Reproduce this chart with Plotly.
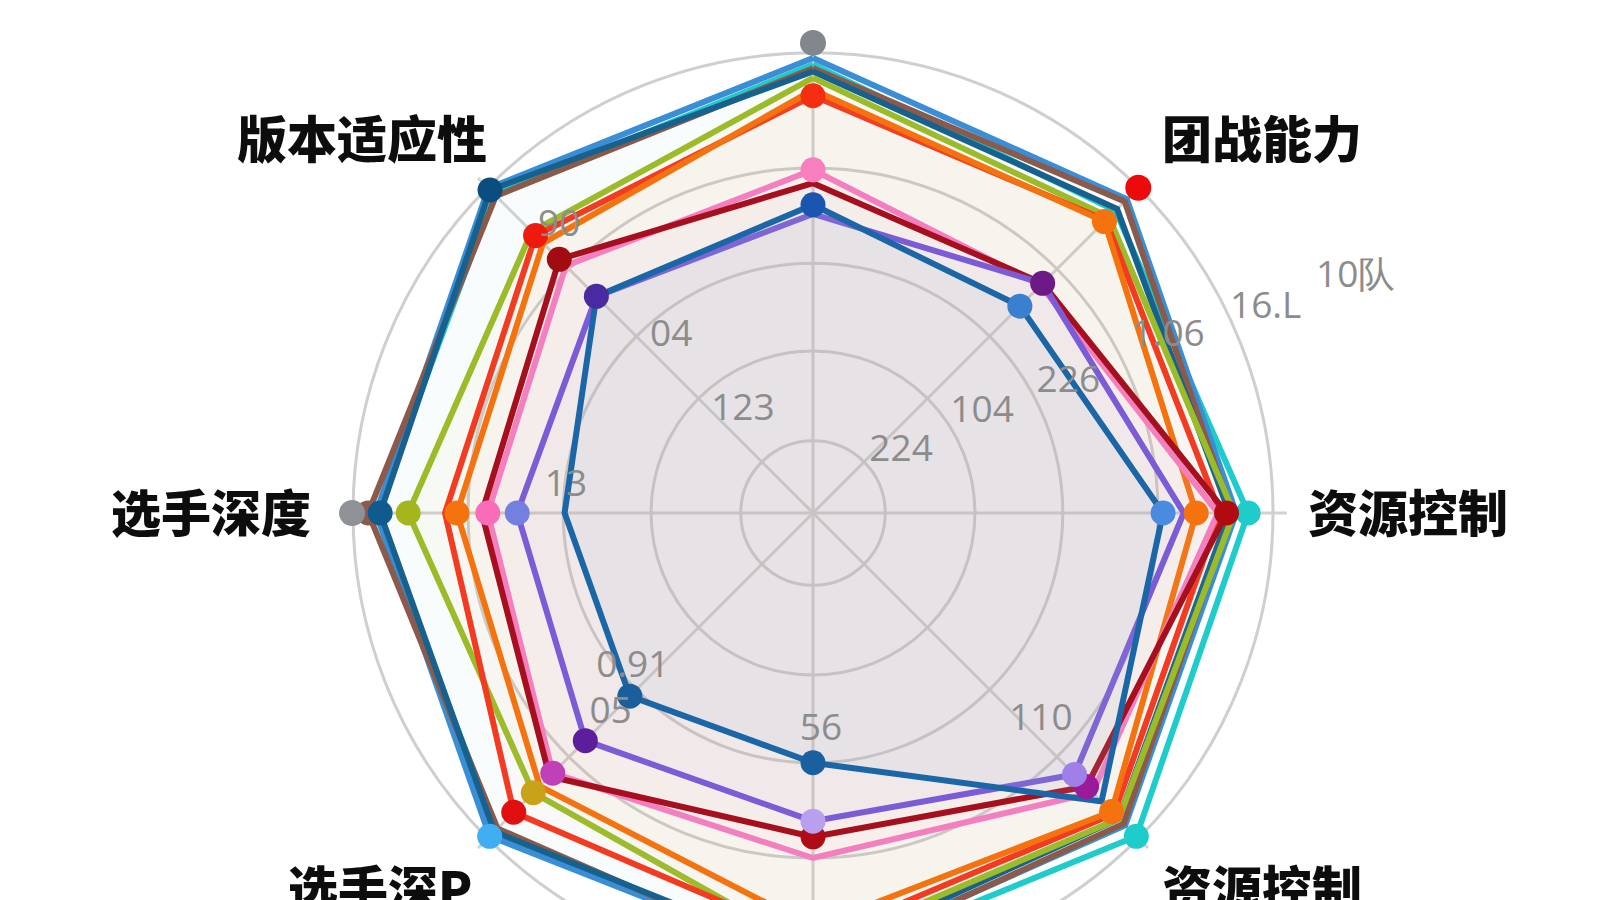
import math
import plotly.graph_objects as go

# ---------------- data ----------------
theta = [90, 45, 0, 315, 270, 225, 180, 135]
axis_labels = ["", "团战能力", "资源控制", "资源控制", "", "选手深P", "选手深度", "版本适应性"]

cyan      = [97.5, 93.0, 94.6, 99.4, 99.0, 97.5, 95.0, 98.0]
blue      = [98.9, 96.5, 92.0, 96.0, 98.0, 99.4, 95.0, 99.8]
brown     = [96.7, 95.8, 91.0, 95.5, 98.5, 97.0, 96.7, 97.5]
teal      = [96.0, 93.5, 90.5, 94.0, 97.0, 98.0, 94.1, 99.3]
olive     = [94.6, 91.0, 91.5, 94.0, 95.0, 86.0, 88.0, 86.5]
red       = [90.7, 90.0, 88.5, 92.5, 93.0, 92.0, 80.0, 85.3]
orange    = [92.0, 89.6, 83.3, 91.8, 90.0, 84.0, 77.4, 83.0]
pink      = [74.6, 70.0, 88.0, 86.0, 75.0, 80.0, 70.7, 76.0]
darkred   = [71.7, 70.6, 89.9, 84.1, 70.4, 81.0, 72.0, 78.0]
violet    = [65.0, 70.6, 80.6, 80.4, 67.0, 70.0, 64.3, 66.6]
darkblue  = [67.0, 63.6, 76.1, 88.7, 54.3, 56.3, 54.0, 66.6]
stray_r     = [102.2, 100.0, 100.2]
stray_theta = [90, 45, 180]

ring_values = [15.7, 35.2, 54.3, 75.0, 100.0]

tick_text  = ["04", "123", "13", "224", "104", "226", "1.06", "16.L", "10队",
              "56", "110", "0.91", "05", "90"]
tick_r     = [49.1, 26.9, 54.0, 23.3, 42.7, 62.3, 86.2, 108.4, 128.9,
              47.4, 67.1, 51.6, 62.0, 83.1]
tick_theta = [128.9, 124.5, 174, 34.7, 30.6, 27, 26.4, 24.9, 23.9,
              272.1, 317.6, 220.6, 224.8, 131.6]

# ---------------- styles ----------------
# name, values, line colour, fill colour, fill alpha, dot mask, dot colours
series = [
    ("cyan", cyan, "#1fcccc", "#1fcccc", 0.008, [0, 0, 1, 1, 0, 0, 0, 0], None),
    ("blue", blue, "#3a8ed6", "#3a8ed6", 0.008, [0, 0, 0, 0, 0, 1, 0, 0],
     [None, None, None, None, None, "#41aef4", None, None]),
    ("brown", brown, "#8b5a4a", "#8b5a4a", 0.004, [0, 0, 0, 0, 0, 0, 1, 0], None),
    ("teal", teal, "#17618e", "#17618e", 0.006, [0, 0, 0, 0, 0, 0, 1, 1],
     [None, None, None, None, None, None, "#0f5a8e", "#0b4d7e"]),
    ("olive", olive, "#9bbc28", "#d9d070", 0.060, [0, 0, 0, 0, 0, 1, 1, 0],
     [None, None, None, None, None, "#c9a21a", "#a3b71c", None]),
    ("red", red, "#f23b20", "#f4a090", 0.030, [1, 0, 0, 0, 0, 1, 0, 1],
     ["#f52e10", None, None, None, None, "#e01010", None, "#ee1a10"]),
    ("orange", orange, "#f5730f", "#f5b070", 0.030, [0, 1, 1, 1, 0, 0, 1, 0], None),
    ("pink", pink, "#f47fc0", "#f4a8cc", 0.060, [1, 0, 0, 0, 0, 1, 1, 0],
     ["#f77fc0", None, None, None, None, "#c040b8", "#f86cb8", None]),
    ("darkred", darkred, "#a50f1e", "#d07080", 0.015, [0, 0, 1, 1, 1, 0, 0, 1],
     [None, None, "#b00c10", "#9a1a9a", "#b00c18", None, None, "#a00c10"]),
    ("violet", violet, "#7b5cd6", "#a8a8e0", 0.050, [0, 1, 0, 1, 1, 1, 1, 1],
     [None, "#6c1a85", None, "#a080e8", "#b8a0ee", "#5c1e9a", "#7480e0", "#4a2aa0"]),
    ("darkblue", darkblue, "#1a66a6", "#a8b8cc", 0.120, [1, 1, 1, 0, 1, 1, 0, 0],
     ["#1a55b0", "#3a7fd0", "#4a8be0", None, "#1a60a0", "#1a5f9a", None, None]),
]
stray_colors = ["#82878d", "#ee0a0a", "#8e9196"]


def rgba(h, a):
    h = h.lstrip("#")
    return "rgba(%d,%d,%d,%.3f)" % (int(h[0:2], 16), int(h[2:4], 16), int(h[4:6], 16), a)


fig = go.Figure()

# filled outlines
for name, vals, col, fcol, alpha, mask, mcols in series:
    fig.add_trace(go.Scatterpolar(
        r=vals + [vals[0]], theta=theta + [theta[0]], mode="lines", name=name,
        line=dict(color=col, width=6),
        fill="toself", fillcolor=rgba(fcol, alpha),
        hoverinfo="skip",
    ))

# dots on top
for name, vals, col, fcol, alpha, mask, mcols in series:
    idx = [i for i in range(8) if mask[i]]
    fig.add_trace(go.Scatterpolar(
        r=[vals[i] for i in idx], theta=[theta[i] for i in idx], mode="markers",
        marker=dict(size=25, color=[(mcols[i] if (mcols and mcols[i]) else col) for i in idx],
                    line=dict(width=0)),
        cliponaxis=False, hoverinfo="skip",
    ))

fig.add_trace(go.Scatterpolar(
    r=stray_r, theta=stray_theta, mode="markers",
    marker=dict(size=26, color=stray_colors, line=dict(width=0)),
    cliponaxis=False, hoverinfo="skip",
))

RMAX = 103.0
inner = [i for i in range(len(tick_r)) if tick_r[i] <= RMAX]
fig.add_trace(go.Scatterpolar(
    r=[tick_r[i] for i in inner], theta=[tick_theta[i] for i in inner], mode="text",
    text=[tick_text[i] for i in inner],
    textfont=dict(family="Open Sans, DejaVu Sans, sans-serif", size=37, color="#8c8c8c"),
    cliponaxis=False, hoverinfo="skip",
))

# ---------------- geometry ----------------
W, H = 1600, 1000
cx, cy, R100 = 813, 513, 460
RD = R100 * RMAX / 100.0

# tick labels lying outside the radial range
for i in range(len(tick_r)):
    if tick_r[i] <= RMAX:
        continue
    rp = tick_r[i] / 100.0 * R100
    a = math.radians(tick_theta[i])
    px, py = cx + rp * math.cos(a), cy - rp * math.sin(a)
    fig.add_annotation(
        x=px / W, y=(H - py) / H, xref="paper", yref="paper", text=tick_text[i],
        showarrow=False, xanchor="center", yanchor="middle",
        font=dict(family="Open Sans, DejaVu Sans, sans-serif", size=37, color="#8c8c8c"),
    )

# ---------------- axis labels ----------------
label_px = [None, (1262, 136), (1408, 510), (1262, 886), None, (380, 886), (211, 510), (362, 136)]
for lab, pos in zip(axis_labels, label_px):
    if not lab or pos is None:
        continue
    fig.add_annotation(
        x=pos[0] / W, y=(H - pos[1]) / H, xref="paper", yref="paper",
        text=lab, showarrow=False, xanchor="center", yanchor="middle",
        font=dict(family="Noto Sans CJK SC", size=50, color="#0d0d0d", weight=900),
    )

fig.update_layout(
    width=W, height=H,
    margin=dict(l=0, r=0, t=0, b=0),
    paper_bgcolor="white",
    showlegend=False,
    polar=dict(
        domain=dict(x=[(cx - RD) / W, (cx + RD) / W],
                    y=[(H - (cy + RD)) / H, (H - (cy - RD)) / H]),
        bgcolor="rgba(0,0,0,0)",
        radialaxis=dict(range=[0, RMAX], tickvals=ring_values, showticklabels=False,
                        ticks="", showline=False, gridcolor="#cfcfcf", gridwidth=2.5),
        angularaxis=dict(thetaunit="degrees", direction="counterclockwise", rotation=0,
                         tickmode="array", tickvals=theta, showticklabels=False, ticks="",
                         gridcolor="#d2d2d2", gridwidth=2.5, showline=False),
    ),
)

fig.write_html("out.html", config={"displayModeBar": False},
               post_script="document.body.style.margin='0';document.body.style.overflow='hidden';")
